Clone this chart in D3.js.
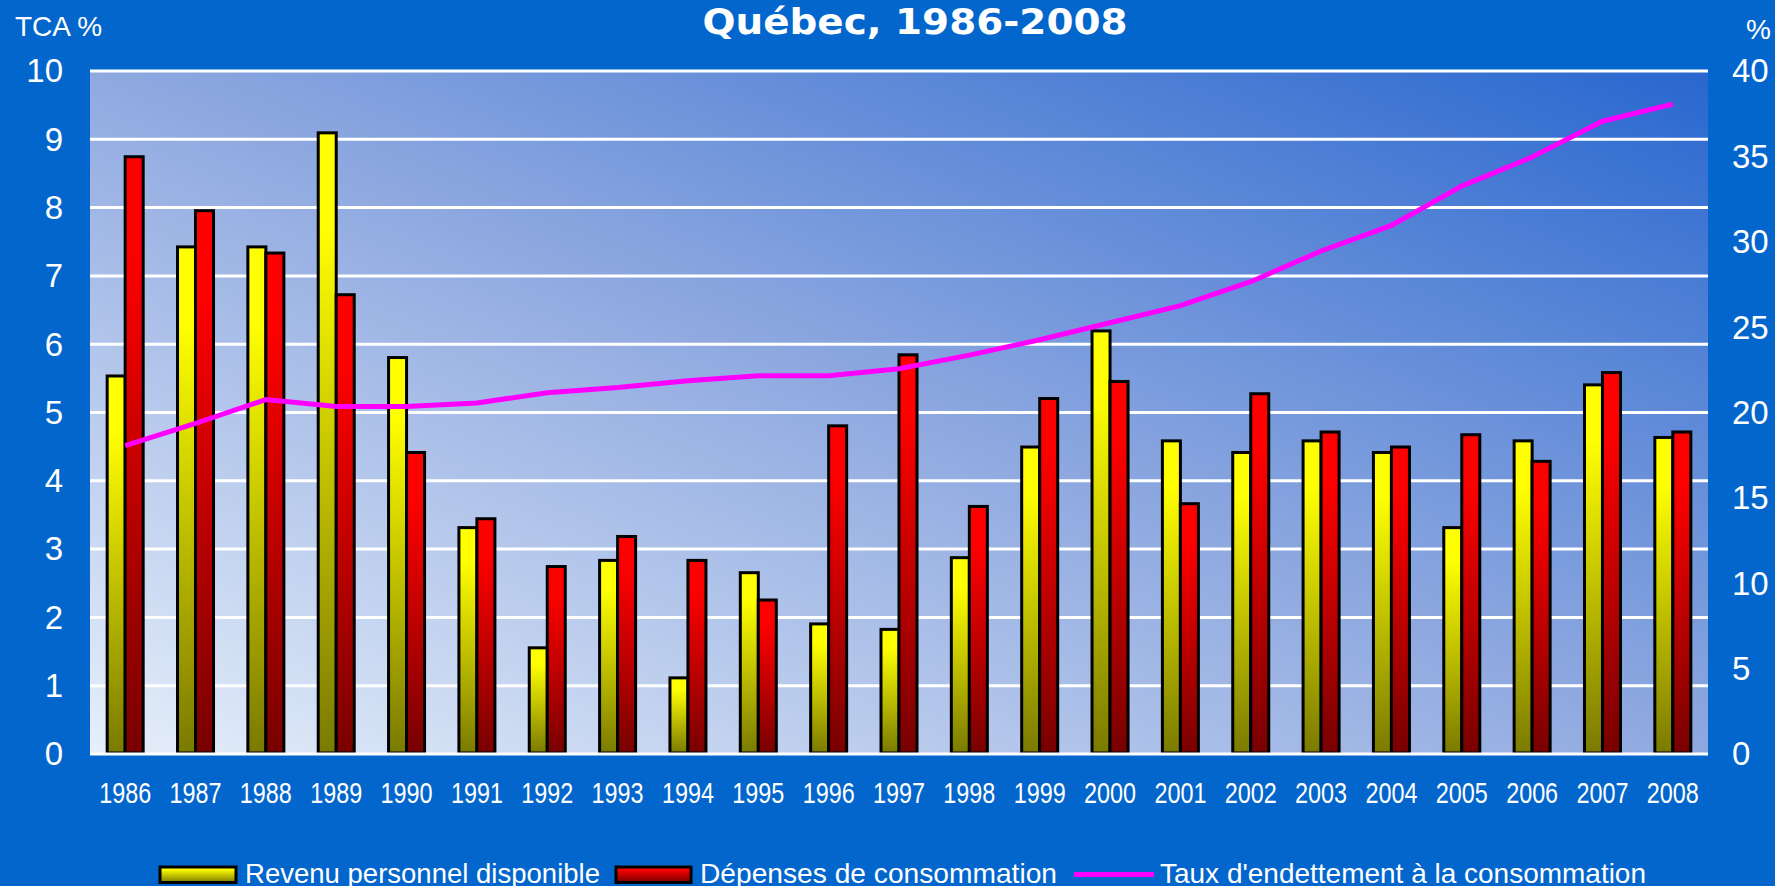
<!DOCTYPE html>
<html>
<head>
<meta charset="utf-8">
<script src="https://cdn.jsdelivr.net/npm/d3@7"></script>
<style>
  html, body { margin: 0; padding: 0; background: #0366cc; overflow: hidden; }
  text { font-family: "Liberation Sans", Arimo, sans-serif; fill: #fff; }
</style>
</head>
<body>
<script>
const years = ['1986', '1987', '1988', '1989', '1990', '1991', '1992', '1993', '1994', '1995', '1996', '1997',
    '1998', '1999', '2000', '2001', '2002', '2003', '2004', '2005', '2006', '2007', '2008']
const revenu = [5.52, 7.41, 7.41, 9.08, 5.79, 3.3, 1.54, 2.82, 1.1, 2.64, 1.89, 1.81,
    2.86, 4.48, 6.18, 4.57, 4.4, 4.57, 4.4, 3.3, 4.57, 5.39, 4.62]
const depenses = [8.73, 7.94, 7.32, 6.71, 4.4, 3.43, 2.73, 3.17, 2.82, 2.24, 4.79, 5.83,
    3.61, 5.19, 5.44, 3.65, 5.26, 4.7, 4.48, 4.66, 4.27, 5.57, 4.7]
const endettement = [18.0, 19.3, 20.7, 20.3, 20.3, 20.5, 21.1, 21.4, 21.8, 22.1, 22.1, 22.5,
    23.3, 24.2, 25.2, 26.2, 27.6, 29.4, 30.9, 33.2, 34.9, 37.0, 38.0]
const leftTicks = [0, 1, 2, 3, 4, 5, 6, 7, 8, 9, 10]
const rightTicks = [0, 5, 10, 15, 20, 25, 30, 35, 40]
const legendLabels = ['Revenu personnel disponible', 'Dépenses de consommation', "Taux d'endettement à la consommation"]

document.addEventListener('DOMContentLoaded', () => {

    const w = 1775
    const h = 886
    const left = 90, right = 1708, top = 70, bottom = 753

    const svg = d3.select('body')
        .append('svg')
        .attr('width', w)
        .attr('height', h)

    const defs = svg.append('defs')

    const bg = defs.append('linearGradient')
        .attr('id', 'bg')
        .attr('x1', 0).attr('y1', 1).attr('x2', 1).attr('y2', 0)
    bg.append('stop').attr('offset', 0).attr('stop-color', '#e6effa')
    bg.append('stop').attr('offset', 0.5).attr('stop-color', '#8fa9e0')
    bg.append('stop').attr('offset', 1).attr('stop-color', '#2867cf')

    function barGradient(id, light, dark) {
        const g = defs.append('linearGradient')
            .attr('id', id)
            .attr('x1', 0).attr('y1', 0).attr('x2', 0).attr('y2', 1)
        g.append('stop').attr('offset', 0).attr('stop-color', light)
        g.append('stop').attr('offset', 0.15).attr('stop-color', light)
        g.append('stop').attr('offset', 1).attr('stop-color', dark)
    }
    barGradient('yellow', '#ffff00', '#7a7a00')
    barGradient('red', '#ff0000', '#780000')

    const x = d3.scaleBand().domain(years).range([left, right])
    const y = d3.scaleLinear().domain([0, 10]).range([bottom, top])
    const y2 = d3.scaleLinear().domain([0, 40]).range([bottom, top])
    const cx = d => x(d) + x.bandwidth() / 2

    svg.append('rect')
        .attr('x', left).attr('y', top)
        .attr('width', right - left).attr('height', bottom - top)
        .attr('fill', 'url(#bg)')

    // grid
    svg.append('g')
        .selectAll('line')
        .data(leftTicks.filter(t => t > 0))
        .enter().append('line')
        .attr('x1', left).attr('x2', right)
        .attr('y1', d => y(d) + 1).attr('y2', d => y(d) + 1)
        .attr('stroke', '#fff')
        .attr('stroke-width', 3)

    // bars
    const bw = 18
    const bars = svg.append('g')
    bars.selectAll('.rev')
        .data(revenu)
        .enter().append('rect')
        .attr('x', (d, i) => cx(years[i]) - bw)
        .attr('y', d => y(d))
        .attr('width', bw)
        .attr('height', d => y(0) - y(d))
        .attr('fill', 'url(#yellow)')
        .attr('stroke', '#000')
        .attr('stroke-width', 3)
    bars.selectAll('.dep')
        .data(depenses)
        .enter().append('rect')
        .attr('x', (d, i) => cx(years[i]))
        .attr('y', d => y(d))
        .attr('width', bw)
        .attr('height', d => y(0) - y(d))
        .attr('fill', 'url(#red)')
        .attr('stroke', '#000')
        .attr('stroke-width', 3)

    svg.append('line')
        .attr('x1', left).attr('x2', right)
        .attr('y1', y(0) + 1).attr('y2', y(0) + 1)
        .attr('stroke', '#fff')
        .attr('stroke-width', 3)

    const line = d3.line()
        .x((d, i) => cx(years[i]))
        .y(d => y2(d))

    svg.append('path')
        .datum(endettement)
        .attr('d', line)
        .attr('fill', 'none')
        .attr('stroke', '#ff00ff')
        .attr('stroke-width', 5)

    // axes
    const yAxis = svg.append('g')
        .attr('transform', `translate(63,0)`)
        .call(d3.axisLeft(y).tickValues(leftTicks).tickSize(0).tickPadding(0))
    yAxis.select('.domain').remove()
    yAxis.selectAll('text')
        .attr('dy', '0.36em')
        .style('font-size', '33px')
        .attr('fill', '#fff')

    const y2Axis = svg.append('g')
        .attr('transform', `translate(1732,0)`)
        .call(d3.axisRight(y2).tickValues(rightTicks).tickSize(0).tickPadding(0))
    y2Axis.select('.domain').remove()
    y2Axis.selectAll('text')
        .attr('dy', '0.36em')
        .style('font-size', '33px')
        .attr('fill', '#fff')

    const xAxis = svg.append('g')
        .attr('transform', `translate(0,${bottom})`)
        .call(d3.axisBottom(x).tickSize(0).tickPadding(0))
    xAxis.select('.domain').remove()
    xAxis.selectAll('text')
        .attr('y', 50)
        .attr('dy', 0)
        .attr('textLength', 52)
        .attr('lengthAdjust', 'spacingAndGlyphs')
        .style('font-size', '30px')
        .attr('fill', '#fff')

    // titles
    svg.append('text')
        .attr('x', 915).attr('y', 34)
        .attr('text-anchor', 'middle')
        .attr('textLength', 425)
        .attr('lengthAdjust', 'spacingAndGlyphs')
        .style('font-family', '"DejaVu Sans", sans-serif')
        .style('font-weight', 'bold')
        .style('font-size', '36px')
        .text('Québec, 1986-2008')

    svg.append('text')
        .attr('x', 15).attr('y', 36)
        .style('font-size', '28px')
        .text('TCA %')

    svg.append('text')
        .attr('x', 1771).attr('y', 39)
        .attr('text-anchor', 'end')
        .style('font-size', '28px')
        .text('%')

    // legend
    const legend = svg.append('g')
    const swatchX = [160, 616, 1074]
    const textX = [245, 700, 1160]
    const textW = [355, 357, 486]

    legend.append('rect')
        .attr('x', swatchX[0]).attr('y', 867)
        .attr('width', 76).attr('height', 15.5)
        .attr('fill', 'url(#yellow)')
        .attr('stroke', '#000').attr('stroke-width', 3)
    legend.append('rect')
        .attr('x', swatchX[1]).attr('y', 867)
        .attr('width', 75).attr('height', 15.5)
        .attr('fill', 'url(#red)')
        .attr('stroke', '#000').attr('stroke-width', 3)
    legend.append('line')
        .attr('x1', swatchX[2]).attr('x2', swatchX[2] + 80)
        .attr('y1', 874.5).attr('y2', 874.5)
        .attr('stroke', '#ff00ff').attr('stroke-width', 5)

    legend.selectAll('.lbl')
        .data(legendLabels)
        .enter().append('text')
        .attr('x', (d, i) => textX[i])
        .attr('y', 883)
        .attr('textLength', (d, i) => textW[i])
        .attr('lengthAdjust', 'spacingAndGlyphs')
        .style('font-size', '28px')
        .text(d => d)
})
</script>
</body>
</html>
